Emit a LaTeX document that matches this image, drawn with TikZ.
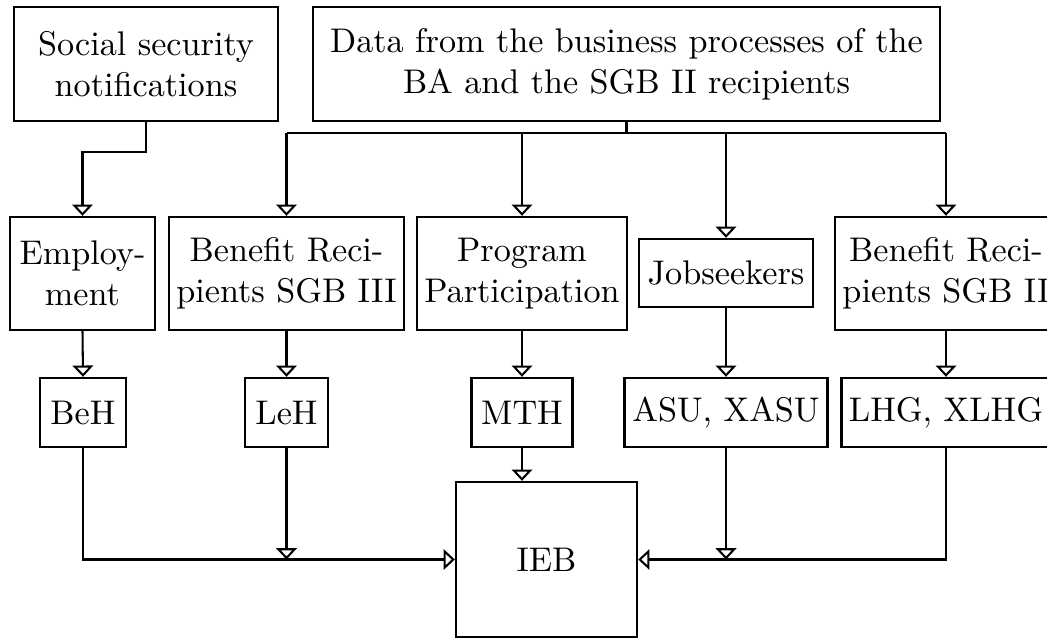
\documentclass[tikz,border=0pt]{standalone}
\usetikzlibrary{arrows.meta}
\newdimen\px \px=0.2924pt
\begin{document}
\begin{tikzpicture}[x=0.2924pt,y=-0.2924pt,
  box/.style={draw, line width=0.7pt, inner sep=0pt, align=center},
  conn/.style={line width=0.6pt},
  arr/.style={conn, -{Triangle[width=6pt,length=3.3pt,fill=white,line width=0.6pt]}}]
\useasboundingbox (0,0) rectangle (1047,639);
% top row
\node[box, minimum width=264\px, minimum height=114\px] (soc) at (146,64) {Social security\\notifications};
\node[box, minimum width=627\px, minimum height=114\px] (data) at (626.5,64) {Data from the business processes of the\\BA and the SGB II recipients};
% second row
\node[box, minimum width=145\px, minimum height=113\px] (emp) at (82.5,273.5) {Employ-\\ment};
\node[box, minimum width=235\px, minimum height=113\px] (sgb3) at (286.5,273.5) {Benefit Reci-\\pients SGB III};
\node[box, minimum width=210\px, minimum height=113\px] (prog) at (522,273.5) {Program\\Participation};
\node[box, minimum width=174\px, minimum height=68\px] (job) at (726,273) {Jobseekers};
\node[box, minimum width=222\px, minimum height=113\px] (sgb2) at (946,273.5) {Benefit Reci-\\pients SGB II};
% third row
\node[box, minimum width=86\px, minimum height=69\px] (beh) at (83,412.5) {BeH};
\node[box, minimum width=83\px, minimum height=69\px] (leh) at (286.5,412.5) {LeH};
\node[box, minimum width=101\px, minimum height=69\px] (mth) at (522,412.5) {MTH};
\node[box, minimum width=203\px, minimum height=69\px] (asu) at (726,412.5) {ASU, XASU};
\node[box, minimum width=209\px, minimum height=69\px] (lhg) at (946,412.5) {LHG, XLHG};
% bottom
\node[box, minimum width=181\px, minimum height=155\px] (ieb) at (546.5,559.5) {IEB};
% connectors top
\draw[arr] (soc.south) -- ++(0,30) -| (emp.north);
\coordinate (bus) at (626.5,133);
\draw[conn] (data.south) -- (bus);
\draw[conn] (sgb3.north |- bus) -- (sgb2.north |- bus);
\draw[arr] (sgb3.north |- bus) -- (sgb3.north);
\draw[arr] (prog.north |- bus) -- (prog.north);
\draw[arr] (job.north |- bus) -- (job.north);
\draw[arr] (sgb2.north |- bus) -- (sgb2.north);
% second to third row
\draw[arr] (emp.south) -- (beh.north);
\draw[arr] (sgb3.south) -- (leh.north);
\draw[arr] (prog.south) -- (mth.north);
\draw[arr] (job.south) -- (asu.north);
\draw[arr] (sgb2.south) -- (lhg.north);
% into IEB
\draw[arr] (mth.south) -- (mth.south |- ieb.north);
\draw[arr] (beh.south) |- (ieb.west);
\draw[arr] (leh.south) -- (leh.south |- ieb.west);
\draw[arr] (lhg.south) |- (ieb.east);
\draw[arr] (asu.south) -- (asu.south |- ieb.east);
\end{tikzpicture}
\end{document}
